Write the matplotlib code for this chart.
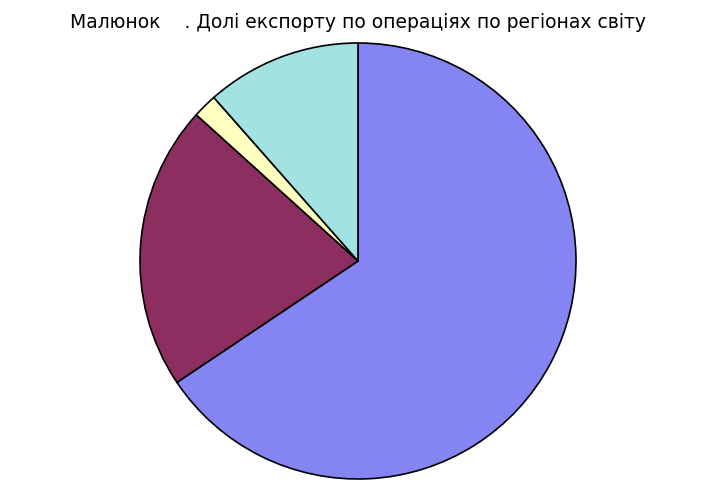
import matplotlib
matplotlib.use("Agg")
import matplotlib.pyplot as plt

regions = ["Region A", "Region B", "Region C", "Region D"]
shares = [65.6, 21.1, 1.8, 11.5]
colors = ["#8484f2", "#8c2f60", "#ffffc0", "#a2e2e2"]
title = "Малюнок    . Долі експорту по операціях по регіонах світу"

W, H = 717, 493
fig = plt.figure(figsize=(W / 100, H / 100), dpi=100)
ax = fig.add_axes([0, 0, 1, 1])
cx, cy, r = 358, 261, 218
ax.pie(shares, colors=colors, startangle=90, counterclock=False, radius=1,
       wedgeprops=dict(edgecolor="black", linewidth=1.2))
ax.set_xlim(-cx / r, (W - cx) / r)
ax.set_ylim(-(H - cy) / r, cy / r)
ax.set_aspect("auto")
ax.axis("off")
fig.text(358 / W, 1 - 22 / H, title, ha="center", va="center", fontsize=13.5,
         family="DejaVu Sans")
fig.savefig("out.png", dpi=100, facecolor="white")
